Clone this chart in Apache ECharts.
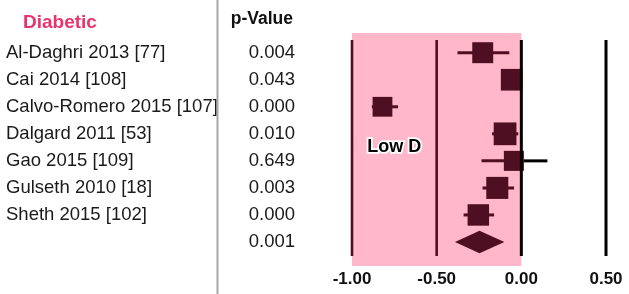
<!DOCTYPE html>
<html><head><meta charset="utf-8">
<script src="https://cdn.jsdelivr.net/npm/echarts@6/dist/echarts.min.js"></script>
<style>html,body{margin:0;padding:0;background:#fff}#c{width:629px;height:294px}</style>
</head><body><div id="c"></div>
<script>
// ---- data ----
const groupTitle = 'Diabetic';
const pHeader = 'p-Value';
const studies = ['Al-Daghri 2013 [77]', 'Cai 2014 [108]', 'Calvo-Romero 2015 [107]', 'Dalgard 2011 [53]', 'Gao 2015 [109]', 'Gulseth 2010 [18]', 'Sheth 2015 [102]'];
const pValues = ['0.004', '0.043', '0.000', '0.010', '0.649', '0.003', '0.000'];
const effects = [-0.228, -0.057, -0.820, -0.096, -0.044, -0.142, -0.254];
const lowerCI = [-0.377, -0.110, -0.883, -0.173, -0.235, -0.229, -0.341];
const upperCI = [-0.071, -0.005, -0.728, -0.018, 0.154, -0.043, -0.161];
const weights = [14.0, 15.0, 12.5, 16.5, 12.8, 15.5, 14.7];
const pooledEffect = [-0.247];
const pooledLower = [-0.392];
const pooledUpper = [-0.100];
const pooledP = ['0.001'];
const xTicks = [-1.0, -0.5, 0.0, 0.5];
const shadedRange = [-1.0, 0.0];
const regionLabel = 'Low D';
const regionLabelPos = [-0.75, 3.5];

// ---- styling ----
const FONT = '"Liberation Sans", Arial, sans-serif';
const MAROON = '#4e0f22';
const PINK = '#ffb7c9';
const Y_MIN = -0.7285, Y_MAX = 7.888;
const LINE_Y0 = -0.47, LINE_Y1 = 7.519;
const nRows = studies.length;

const chart = echarts.init(document.getElementById('c'), null, {renderer: 'canvas'});
chart.setOption({
  animation: false,
  backgroundColor: '#fff',
  grid: {left: 352, right: 23, top: 33, bottom: 28},
  xAxis: {
    type: 'value', min: xTicks[0], max: xTicks[xTicks.length - 1], interval: 0.5,
    axisLine: {show: false}, axisTick: {show: false}, splitLine: {show: false},
    axisLabel: {formatter: v => v.toFixed(2), fontWeight: 'bold', fontSize: 17, color: '#111', margin: 5, fontFamily: FONT}
  },
  yAxis: {type: 'value', inverse: true, min: Y_MIN, max: Y_MAX, show: false},
  series: [
    {
      type: 'line', data: [], z: 1, silent: true,
      markArea: {silent: true, itemStyle: {color: PINK}, data: [[{xAxis: shadedRange[0], yAxis: Y_MIN}, {xAxis: shadedRange[1], yAxis: Y_MAX}]]}
    },
    {
      type: 'custom', z: 3, silent: true,
      data: studies.map((s, i) => [lowerCI[i], upperCI[i], i]),
      encode: {x: [0, 1], y: 2},
      renderItem(params, api) {
        const lo = api.value(0), hi = api.value(1), y = api.value(2);
        const p1 = api.coord([lo, y]), p2 = api.coord([Math.min(hi, 0), y]);
        const children = [{type: 'line', shape: {x1: p1[0], y1: p1[1], x2: p2[0], y2: p2[1]}, style: {stroke: MAROON, lineWidth: 3}}];
        if (hi > 0) {
          const p3 = api.coord([hi, y]);
          children.push({type: 'line', shape: {x1: p2[0], y1: p2[1], x2: p3[0], y2: p3[1]}, style: {stroke: '#000', lineWidth: 3}});
        }
        return {type: 'group', children};
      }
    },
    {
      type: 'scatter', z: 4, silent: true,
      data: effects.map((e, i) => [e, i]),
      symbol: 'rect',
      symbolSize: (val, params) => 5.6 * Math.sqrt(weights[params.dataIndex]),
      itemStyle: {color: MAROON, opacity: 1}
    },
    {
      type: 'custom', z: 4, silent: true,
      data: pooledEffect.map((e, i) => [pooledLower[i], e, pooledUpper[i], nRows + i]),
      encode: {x: [0, 2], y: 3},
      renderItem(params, api) {
        const y = api.value(3);
        const a = api.coord([api.value(0), y]), m = api.coord([api.value(1), y]), b = api.coord([api.value(2), y]);
        const h = 11.3;
        return {type: 'polygon', shape: {points: [[a[0], a[1]], [m[0], m[1] - h], [b[0], b[1]], [m[0], m[1] + h]]}, style: {fill: MAROON}};
      }
    },
    {
      type: 'custom', z: 6, silent: true,
      data: xTicks.map(v => [v]),
      encode: {x: 0},
      renderItem(params, api) {
        const v = api.value(0);
        const a = api.coord([v, LINE_Y0]), b = api.coord([v, LINE_Y1]);
        return {type: 'line', shape: {x1: a[0], y1: a[1], x2: b[0], y2: b[1]}, style: {stroke: v < 0 ? MAROON : '#000', lineWidth: v < 0 ? 2.6 : 3}};
      }
    }
  ]
});

const rowY = i => chart.convertToPixel({yAxisIndex: 0}, i);
const graphics = [];
graphics.push({type: 'text', x: 23, y: 23, style: {text: groupTitle, font: 'bold 19px ' + FONT, fill: '#e8346e', verticalAlign: 'middle', align: 'left'}, z: 10});
graphics.push({type: 'text', x: 293, y: 19, style: {text: pHeader, font: 'bold 17.5px ' + FONT, fill: '#111', verticalAlign: 'middle', align: 'right'}, z: 10});
studies.forEach((s, i) => {
  graphics.push({type: 'text', x: 6, y: rowY(i), style: {text: s, font: '18.5px ' + FONT, fill: '#1a1a1a', verticalAlign: 'middle', align: 'left'}, z: 10});
  graphics.push({type: 'text', x: 295, y: rowY(i), style: {text: pValues[i], font: '18.5px ' + FONT, fill: '#1a1a1a', verticalAlign: 'middle', align: 'right'}, z: 10});
});
pooledP.forEach((p, i) => {
  graphics.push({type: 'text', x: 295, y: rowY(nRows + i), style: {text: p, font: '18.5px ' + FONT, fill: '#1a1a1a', verticalAlign: 'middle', align: 'right'}, z: 10});
});
graphics.push({type: 'rect', shape: {x: 216.5, y: 0, width: 2, height: 294}, style: {fill: '#a8a8a8'}, z: 11});
const lp = chart.convertToPixel({xAxisIndex: 0, yAxisIndex: 0}, regionLabelPos);
graphics.push({type: 'text', x: lp[0], y: lp[1], style: {text: regionLabel, font: 'bold 18px ' + FONT, fill: '#000', stroke: '#fff', lineWidth: 3.5, verticalAlign: 'middle', align: 'center'}, z: 10});
chart.setOption({graphic: graphics});
</script>
</body></html>
